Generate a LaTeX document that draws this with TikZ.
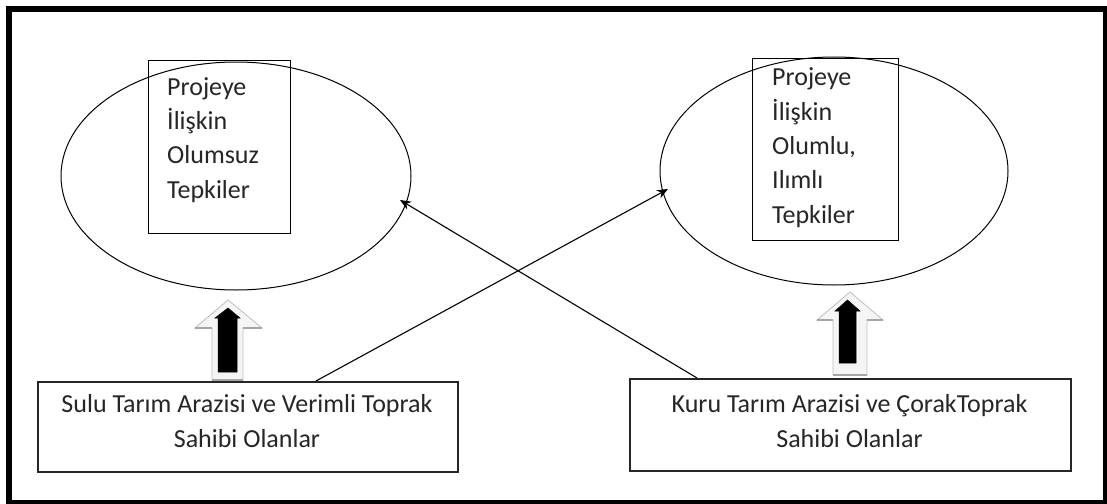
\documentclass[tikz,border=0pt]{standalone}
\usepackage{fontspec}
\setmainfont{Carlito}
\usetikzlibrary{arrows.meta,calc,shapes.geometric}
\begin{document}
\begin{tikzpicture}[x=1pt,y=-1pt,
  frame/.style={line width=6pt,draw=black},
  oval/.style={draw=black,line width=1pt,shape=ellipse,inner sep=0pt},
  inbox/.style={draw=black,line width=1.2pt,inner sep=0pt},
  botbox/.style={draw=black!85,line width=1.6pt,inner sep=0pt},
  itext/.style={align=left,inner sep=0pt,font=\fontsize{26}{34.3}\selectfont,text=black!85},
  btext/.style={align=center,inner sep=0pt,font=\fontsize{26}{35}\selectfont,text=black!85},
  conn/.style={draw=black,line width=1.1pt,-{Stealth[length=11pt,width=9pt]}},
  ghost/.style={fill=black!4,draw=black!25,line width=0.8pt},
  shade/.style={draw=black!35,line width=1.5pt},
  blk/.style={fill=black,draw=black,line width=0.5pt}
]
\useasboundingbox (0,0) rectangle (1107,503);
\clip (0,0) rectangle (1107,503);
\fill[white] (0,0) rectangle (1107,503);
% outer frame
\draw[frame] (9,9) rectangle (1106,503);
% ellipses
\node[oval,minimum width=350pt,minimum height=228pt] (lov) at (236,176) {};
\node[oval,minimum width=348pt,minimum height=228pt] (rov) at (834,171) {};
% inner rectangles
\node[inbox,minimum width=142pt,minimum height=173pt,anchor=north west] (lin) at (148,60) {};
\node[inbox,minimum width=146pt,minimum height=182pt,anchor=north west] (rin) at (752,58) {};
\node[itext,anchor=base west] (ltx) at (167,198) {Projeye\\İlişkin\\Olumsuz\\Tepkiler};
\node[itext,anchor=base west] (rtx) at (772,223) {Projeye\\İlişkin\\Olumlu,\\Ilımlı\\Tepkiler};
% bottom boxes
\node[botbox,minimum width=420pt,minimum height=90pt,anchor=north west] (lb) at (37,381) {};
\node[botbox,minimum width=441pt,minimum height=92pt,anchor=north west] (rb) at (629,378) {};
\node[btext,anchor=base] (lbt) at (247,447) {Sulu Tarım Arazisi ve Verimli Toprak\\Sahibi Olanlar};
\node[btext,anchor=base] (rbt) at (849.5,447) {Kuru Tarım Arazisi ve ÇorakToprak\\Sahibi Olanlar};
% block arrows (left)
\path[ghost] (228,300) -- (262,328) -- (243,328) -- (243,380) -- (212,380) -- (212,328) -- (195,328) -- cycle;
\draw[shade] (243,328) -- (262,328);
\draw[shade] (212,328) -- (195,328);
\draw[shade] (212,380) -- (243,380);
\path[blk] (228,308) -- (240,318) -- (237,318) -- (237,372) -- (218,372) -- (218,318) -- (215,318) -- cycle;
% block arrows (right)
\path[ghost] (850,292) -- (883,320) -- (867,320) -- (867,375) -- (833,375) -- (833,320) -- (817,320) -- cycle;
\draw[shade] (867,320) -- (883,320);
\draw[shade] (833,320) -- (817,320);
\draw[shade] (833,375) -- (867,375);
\path[blk] (847.5,300) -- (860,311) -- (856,311) -- (856,363) -- (839,363) -- (839,311) -- (835,311) -- cycle;
% connectors
\coordinate (s1) at (316,381);
\coordinate (e1) at (668,189);
\coordinate (s2) at (697,378);
\coordinate (e2) at (400,200);
\draw[conn] (s1) -- (e1);
\draw[conn] (s2) -- (e2);
\end{tikzpicture}
\end{document}
